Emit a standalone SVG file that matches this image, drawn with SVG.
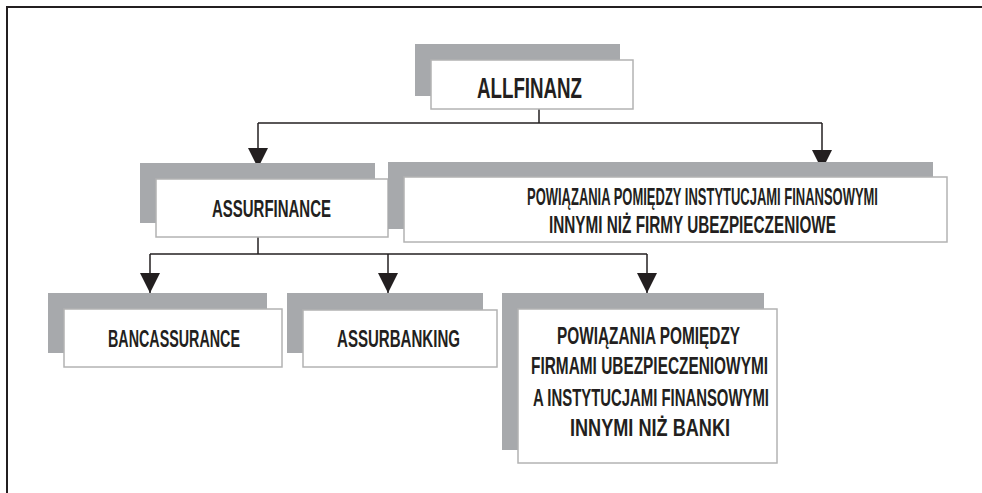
<svg xmlns="http://www.w3.org/2000/svg" width="982" height="493" viewBox="0 0 982 493">
  <style>
    .shadow { fill: #a7a9ac; }
    .card { fill: #ffffff; stroke: #b3b3b3; stroke-width: 1.5; }
    .label { font-family: "Liberation Sans", Arial, sans-serif; font-weight: bold; fill: #231f20; font-size: 24px; }
    .big { font-size: 30px; }
    .wire { fill: none; stroke: #231f20; stroke-width: 1.5; }
    .frame { fill: none; stroke: #231f20; stroke-width: 2; }
  </style>
  <defs>
    <marker id="arrow" viewBox="0 0 20 20" refX="20" refY="10" markerWidth="20" markerHeight="20" markerUnits="userSpaceOnUse" orient="auto">
      <path d="M0,0 L20,10 L0,20 z" fill="#231f20"/>
    </marker>
  </defs>

  <rect width="982" height="493" fill="#ffffff"/>

  <!-- outer frame: top and left edges -->
  <path class="frame" d="M7,493 L7,7 L982,7"/>

  <!-- connectors -->
  <g id="connectors">
    <path class="wire" d="M539,109 L539,123"/>
    <path class="wire" d="M258,123 L822,123"/>
    <path class="wire" d="M258,123 L258,168" marker-end="url(#arrow)"/>
    <path class="wire" d="M822,123 L822,170" marker-end="url(#arrow)"/>
    <path class="wire" d="M258,237 L258,254"/>
    <path class="wire" d="M150,254 L647,254"/>
    <path class="wire" d="M150,254 L150,293" marker-end="url(#arrow)"/>
    <path class="wire" d="M388,254 L388,293" marker-end="url(#arrow)"/>
    <path class="wire" d="M647,254 L647,293" marker-end="url(#arrow)"/>
  </g>

  <!-- labels are set in a narrowed sans: each line is squeezed horizontally to 62% -->
  <g id="allfinanz">
    <rect class="shadow" x="415" y="44" width="205" height="52"/>
    <rect class="card" x="431" y="60" width="202" height="49"/>
    <text class="label big" transform="translate(477 0) scale(0.62 1)" x="0" y="98" textLength="169.4" lengthAdjust="spacingAndGlyphs">ALLFINANZ</text>
  </g>

  <g id="assurfinance">
    <rect class="shadow" x="140" y="163" width="235" height="60"/>
    <rect class="card" x="156" y="179" width="232" height="58"/>
    <text class="label" transform="translate(212 0) scale(0.62 1)" x="0" y="217" textLength="191.9" lengthAdjust="spacingAndGlyphs">ASSURFINANCE</text>
  </g>

  <g id="powiazania-instytucje">
    <rect class="shadow" x="388" y="162" width="545" height="67"/>
    <rect class="card" x="404" y="177" width="543" height="65"/>
    <text class="label" transform="translate(527 0) scale(0.62 1)" x="0" y="205" textLength="566.1" lengthAdjust="spacingAndGlyphs">POWIĄZANIA POMIĘDZY INSTYTUCJAMI FINANSOWYMI</text>
    <text class="label" transform="translate(549 0) scale(0.62 1)" x="0" y="233" textLength="462.9" lengthAdjust="spacingAndGlyphs">INNYMI NIŻ FIRMY UBEZPIECZENIOWE</text>
  </g>

  <g id="bancassurance">
    <rect class="shadow" x="48" y="293" width="219" height="60"/>
    <rect class="card" x="64" y="309" width="218" height="58"/>
    <text class="label" transform="translate(108 0) scale(0.62 1)" x="0" y="347" textLength="212.9" lengthAdjust="spacingAndGlyphs">BANCASSURANCE</text>
  </g>

  <g id="assurbanking">
    <rect class="shadow" x="287" y="293" width="196" height="60"/>
    <rect class="card" x="303" y="310" width="194" height="57"/>
    <text class="label" transform="translate(337 0) scale(0.62 1)" x="0" y="347" textLength="198.4" lengthAdjust="spacingAndGlyphs">ASSURBANKING</text>
  </g>

  <g id="powiazania-firmy">
    <rect class="shadow" x="502" y="293" width="262" height="157"/>
    <rect class="card" x="518" y="309" width="259" height="154"/>
    <text class="label" transform="translate(557 0) scale(0.62 1)" x="0" y="344" textLength="295.2" lengthAdjust="spacingAndGlyphs">POWIĄZANIA POMIĘDZY</text>
    <text class="label" transform="translate(531 0) scale(0.62 1)" x="0" y="374" textLength="382.3" lengthAdjust="spacingAndGlyphs">FIRMAMI UBEZPIECZENIOWYMI</text>
    <text class="label" transform="translate(533 0) scale(0.62 1)" x="0" y="406" textLength="380.6" lengthAdjust="spacingAndGlyphs">A INSTYTUCJAMI FINANSOWYMI</text>
    <text class="label" transform="translate(570 0) scale(0.62 1)" x="0" y="436" textLength="258.1" lengthAdjust="spacingAndGlyphs">INNYMI  NIŻ BANKI</text>
  </g>
</svg>
